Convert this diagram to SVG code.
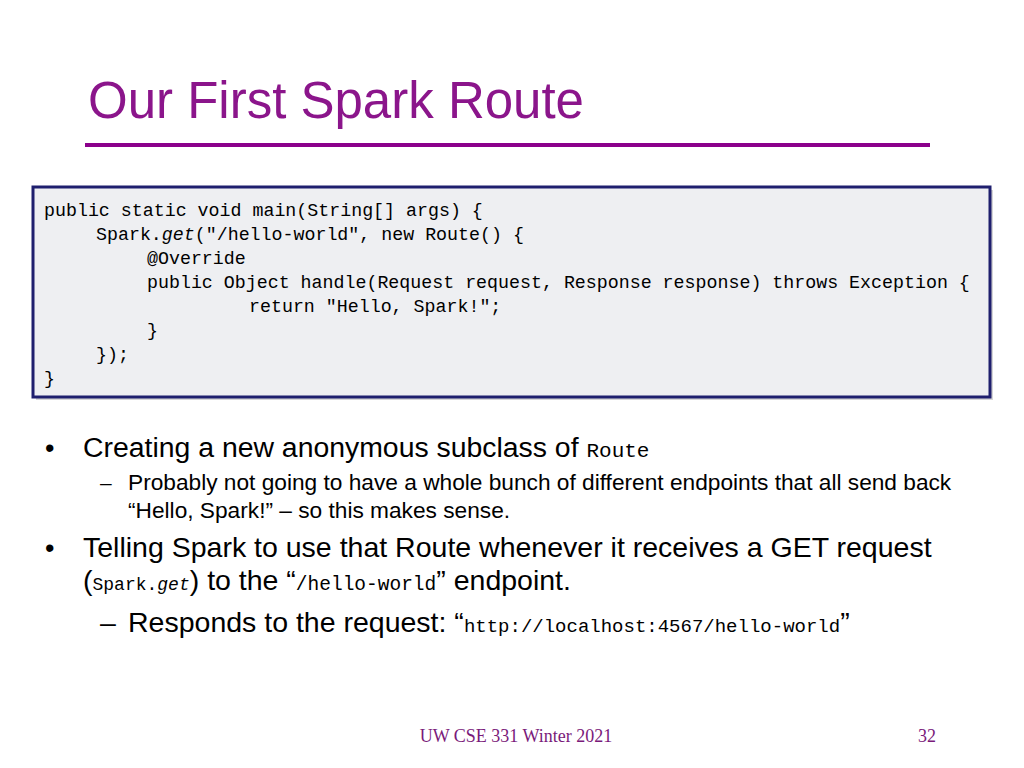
<svg xmlns="http://www.w3.org/2000/svg" width="1024" height="768" viewBox="0 0 1024 768">
<style>
.code{font-family:"Liberation Mono",monospace;font-size:18.3px;fill:#000}
.b{font-family:"Liberation Sans",Arial,sans-serif;fill:#000}
.m{font-family:"Liberation Mono",monospace}
.f{font-family:"Liberation Serif",serif;font-size:18px;fill:#7a1a7a}
</style>
<rect width="1024" height="768" fill="#fff"/>
<g id="title">
<text x="88" y="118" font-family="Liberation Sans,Arial,sans-serif" font-size="51" fill="#8b158b">Our First Spark Route</text>
<rect x="85" y="143" width="845" height="4" fill="#8b008b"/>
</g>
<g id="codebox">
<rect x="36" y="190" width="957" height="210" fill="#999" opacity="0.4"/>
<rect x="33" y="187" width="957" height="210" fill="#eeeff2" stroke="#1f1f6e" stroke-width="3"/>
<text class="code" x="44" y="216">public static void main(String[] args) {</text>
<text class="code" x="96" y="240">Spark.<tspan font-style="italic">get</tspan>("/hello-world", new Route() {</text>
<text class="code" x="147" y="264">@Override</text>
<text class="code" x="147" y="288">public Object handle(Request request, Response response) throws Exception {</text>
<text class="code" x="249" y="312">return "Hello, Spark!";</text>
<text class="code" x="147" y="336">}</text>
<text class="code" x="96" y="360">});</text>
<text class="code" x="44" y="384">}</text>
</g>
<g id="bullets">
<text class="b" x="45" y="457" font-size="27">•</text>
<text class="b" x="83" y="457" font-size="28.4">Creating a new anonymous subclass of <tspan class="m" font-size="21">Route</tspan></text>
<text class="b" x="100" y="490" font-size="21">–</text>
<text class="b" x="128" y="490" font-size="22.7">Probably not going to have a whole bunch of different endpoints that all send back</text>
<text class="b" x="128" y="518" font-size="22.7">“Hello, Spark!” – so this makes sense.</text>
<text class="b" x="45" y="557" font-size="27">•</text>
<text class="b" x="83" y="557" font-size="28.5">Telling Spark to use that Route whenever it receives a GET request</text>
<text class="b" x="83" y="590" font-size="28.5">(<tspan class="m" font-size="18">Spark.<tspan font-style="italic">get</tspan></tspan>) to the “<tspan class="m" font-size="19.5">/hello-world</tspan>” endpoint.</text>
<text class="b" x="100" y="632" font-size="28.5">–</text>
<text class="b" x="128" y="632" font-size="28.5">Responds to the request: “<tspan class="m" font-size="19">http://localhost:4567/hello-world</tspan>”</text>
</g>
<g id="footer">
<text class="f" x="516" y="742" text-anchor="middle">UW CSE 331 Winter 2021</text>
<text class="f" x="927" y="742" text-anchor="middle">32</text>
</g>
</svg>
